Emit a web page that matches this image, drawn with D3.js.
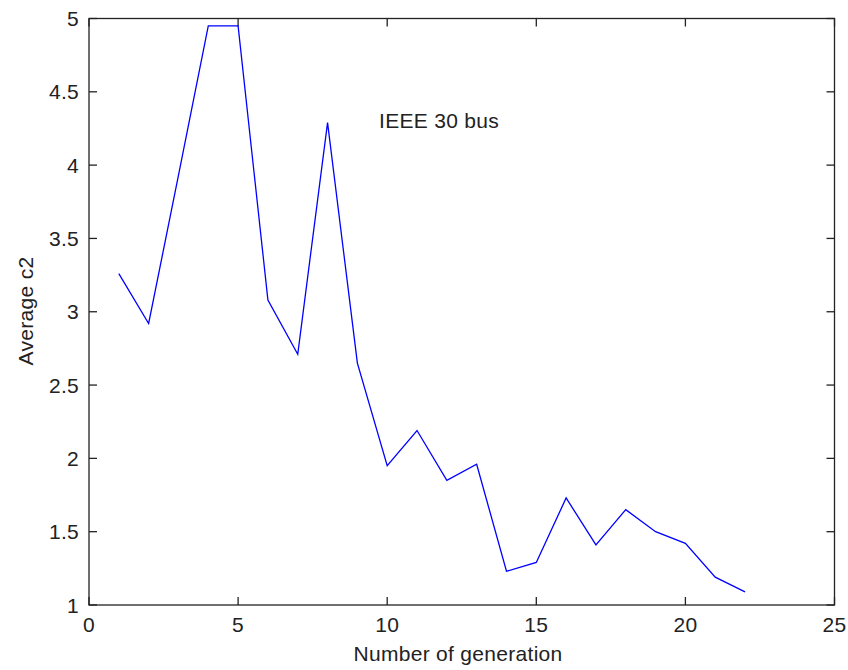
<!DOCTYPE html>
<html>
<head>
<meta charset="utf-8">
<script src="https://cdn.jsdelivr.net/npm/d3@7"></script>
<style>
  html, body { margin: 0; padding: 0; background: #fff; }
  svg { display: block; }
  text { font-family: "Liberation Sans", Arial, sans-serif; fill: #222; letter-spacing: 0.3px; }
</style>
</head>
<body>
<svg id="chart" width="848" height="670"></svg>
<script>
// Average c2 per generation, IEEE 30 bus case
const generations = d3.range(1, 23);
const avgC2 = [3.26, 2.92, 3.93, 4.95, 4.95, 3.08, 2.71, 4.29, 2.65, 1.95, 2.19,
               1.85, 1.96, 1.23, 1.29, 1.73, 1.41, 1.65, 1.50, 1.42, 1.19, 1.09];
const xTicks = [0, 5, 10, 15, 20, 25];
const yTicks = [1, 1.5, 2, 2.5, 3, 3.5, 4, 4.5, 5];

const svg = d3.select("#chart");
const plotLeft = 89, plotRight = 834.5, plotTop = 18.5, plotBottom = 605;
const tickLen = 8;
const fontSize = 21;

const x = d3.scaleLinear().domain([0, 25]).range([plotLeft, plotRight]);
const y = d3.scaleLinear().domain([1, 5]).range([plotBottom, plotTop]);

// Frame
svg.append("rect")
  .attr("x", plotLeft).attr("y", plotTop)
  .attr("width", plotRight - plotLeft).attr("height", plotBottom - plotTop)
  .attr("fill", "none").attr("stroke", "#222").attr("stroke-width", 1.3);

// Inward ticks on all four sides
const g = svg.append("g").attr("stroke", "#222").attr("stroke-width", 1.3);
xTicks.forEach(t => {
  g.append("line").attr("x1", x(t)).attr("x2", x(t)).attr("y1", plotBottom).attr("y2", plotBottom - tickLen);
  g.append("line").attr("x1", x(t)).attr("x2", x(t)).attr("y1", plotTop).attr("y2", plotTop + tickLen);
});
yTicks.forEach(t => {
  g.append("line").attr("x1", plotLeft).attr("x2", plotLeft + tickLen).attr("y1", y(t)).attr("y2", y(t));
  g.append("line").attr("x1", plotRight).attr("x2", plotRight - tickLen).attr("y1", y(t)).attr("y2", y(t));
});

// Tick labels
svg.append("g").selectAll("text").data(xTicks).join("text")
  .attr("x", d => x(d)).attr("y", 632)
  .attr("text-anchor", "middle")
  .attr("font-size", fontSize)
  .text(d => String(d));

svg.append("g").selectAll("text").data(yTicks).join("text")
  .attr("x", plotLeft - 10).attr("y", d => y(d) + 7.5)
  .attr("text-anchor", "end")
  .attr("font-size", fontSize)
  .text(d => String(d));

// Axis titles
svg.append("text")
  .attr("x", 458).attr("y", 661)
  .attr("text-anchor", "middle")
  .attr("font-size", fontSize)
  .text("Number of generation");

svg.append("text")
  .attr("transform", "translate(33,311) rotate(-90)")
  .attr("text-anchor", "middle")
  .attr("font-size", fontSize)
  .text("Average c2");

// Data line
const line = d3.line()
  .x((d, i) => x(generations[i]))
  .y(d => y(d));

svg.append("path")
  .datum(avgC2)
  .attr("d", line)
  .attr("fill", "none")
  .attr("stroke", "#0000ff")
  .attr("stroke-width", 1.3);

// Annotation
svg.append("text")
  .attr("x", 379).attr("y", 128)
  .attr("font-size", fontSize)
  .text("IEEE 30 bus");
</script>
</body>
</html>
